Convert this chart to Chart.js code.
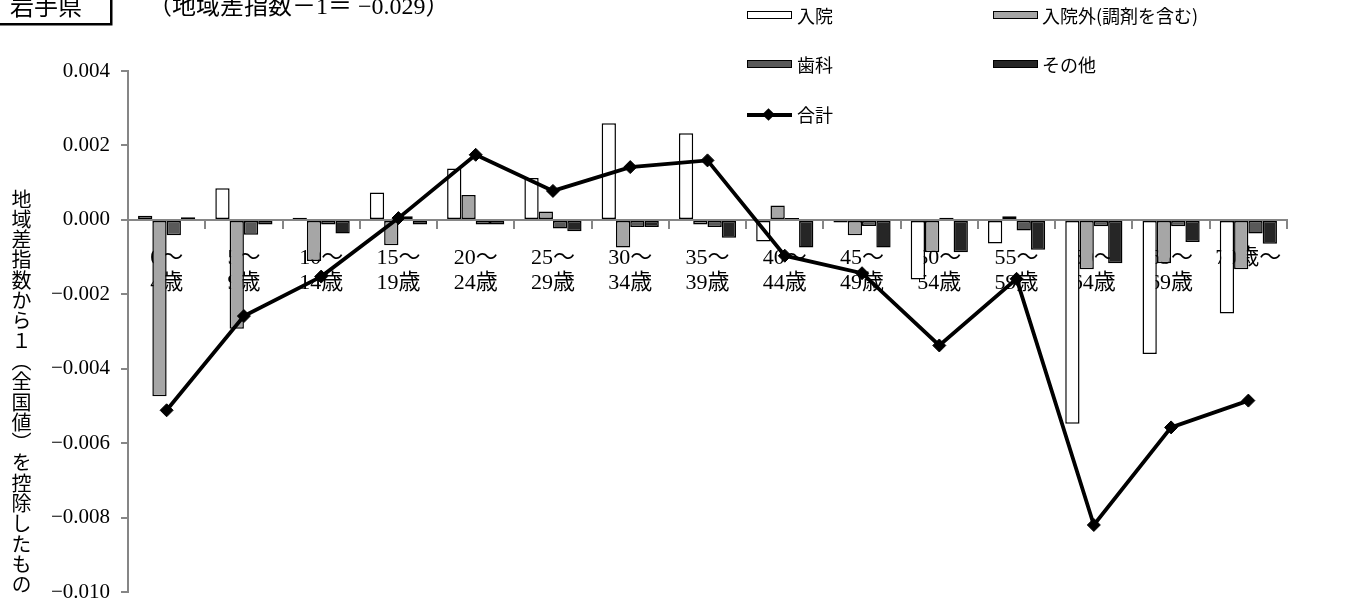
<!DOCTYPE html>
<html><head><meta charset="utf-8">
<script src="https://cdn.jsdelivr.net/npm/chart.js@4/dist/chart.umd.min.js"></script>
<style>
body{margin:0;background:#fff;}
#wrap{position:relative;width:1354px;height:616px;overflow:hidden;font-family:"Liberation Serif","Noto Sans CJK JP",serif;color:#000;}
#c{position:absolute;left:0;top:0;}
#pref{position:absolute;left:-3px;top:-14px;width:112px;height:36px;border:1.5px solid #000;box-shadow:1.5px 1.5px 0 #000;font-size:24px;line-height:40px;text-align:center;background:#fff;}
#pref span{position:relative;left:-8px;}
#sub{position:absolute;left:148px;top:-8px;font-size:24px;line-height:28px;white-space:nowrap;}
#ylab{position:absolute;left:9px;top:189px;writing-mode:vertical-rl;font-size:20px;line-height:24px;letter-spacing:0.3px;font-family:"Noto Sans CJK JP","Liberation Serif",serif;white-space:nowrap;}
.lg{position:absolute;font-family:"Noto Sans CJK JP",sans-serif;font-size:18px;line-height:22px;white-space:nowrap;}
.sym{position:absolute;width:43px;height:6px;border:1.5px solid #000;}
.lsym{position:absolute;width:45px;height:3.5px;background:#000;}
.dia{position:absolute;width:9px;height:9px;background:#000;transform:rotate(45deg);}
</style></head>
<body>
<div id="wrap">
<canvas id="c" width="1354" height="616"></canvas>
<div id="pref"><span>岩手県</span></div>
<div id="sub">（地域差指数－1＝ −0.029）</div>
<div id="ylab">地域差指数から１（全国値）を控除したもの</div>
<div class="sym" style="left:747px;top:11px;background:#fff;"></div>
<div class="lg" style="left:797px;top:4px;">入院</div>
<div class="sym" style="left:993px;top:11px;background:#a6a6a6;"></div>
<div class="lg" style="left:1042px;top:4px;">入院外(調剤を含む)</div>
<div class="sym" style="left:747px;top:60px;background:#595959;"></div>
<div class="lg" style="left:797px;top:53px;">歯科</div>
<div class="sym" style="left:993px;top:60px;background:#262626;"></div>
<div class="lg" style="left:1042px;top:53px;">その他</div>
<div class="lsym" style="left:747px;top:113px;"></div>
<div class="dia" style="left:764px;top:110px;"></div>
<div class="lg" style="left:797px;top:103px;">合計</div>
</div>
<script>
const categories = [["0～","4歳"],["5～","9歳"],["10～","14歳"],["15～","19歳"],["20～","24歳"],["25～","29歳"],["30～","34歳"],["35～","39歳"],["40～","44歳"],["45～","49歳"],["50～","54歳"],["55～","59歳"],["60～","64歳"],["65～","69歳"],["70歳～"]];
const nyuin  = [0.00011, 0.00085, 0.00006, 0.00074, 0.00138, 0.00113, 0.0026, 0.00233, -0.00058, -0.00007, -0.0016, -0.00063, -0.00547, -0.0036, -0.00251];
const gairai = [-0.00473, -0.00292, -0.0011, -0.00068, 0.00067, 0.00023, -0.00074, -0.00012, 0.00039, -0.00041, -0.00087, 0.0001, -0.00132, -0.00116, -0.00132];
const shika  = [-0.00041, -0.0004, -0.00012, 0.0001, -0.00012, -0.00023, -0.00019, -0.00019, 0.00005, -0.00016, 0.00006, -0.00028, -0.00017, -0.00017, -0.00036];
const sonota = [0.00007, -0.00012, -0.00036, -0.00012, -0.00012, -0.0003, -0.00019, -0.00048, -0.00074, -0.00074, -0.00087, -0.0008, -0.00116, -0.00059, -0.00064];
const total  = [-0.00511, -0.00258, -0.00152, 0.00005, 0.00175, 0.00078, 0.00142, 0.0016, -0.00096, -0.00143, -0.00337, -0.00158, -0.00819, -0.00557, -0.00485];
const seriesNames = ["入院","入院外(調剤を含む)","歯科","その他","合計"];
const yMin = -0.010, yMax = 0.004, yStep = 0.002;

const barCommon = {type:'bar', borderColor:'#000', borderWidth:1.5, borderSkipped:false, categoryPercentage:0.74, barPercentage:1.0, order:1};
new Chart(document.getElementById('c'), {
  data: {
    labels: categories,
    datasets: [
      Object.assign({label:seriesNames[0], data:nyuin, backgroundColor:'#ffffff'}, barCommon),
      Object.assign({label:seriesNames[1], data:gairai, backgroundColor:'#a6a6a6'}, barCommon),
      Object.assign({label:seriesNames[2], data:shika, backgroundColor:'#595959'}, barCommon),
      Object.assign({label:seriesNames[3], data:sonota, backgroundColor:'#262626'}, barCommon),
      {type:'line', label:seriesNames[4], data:total, borderColor:'#000', borderWidth:3.8, tension:0,
       pointStyle:'rectRot', pointRadius:6.5, pointBackgroundColor:'#000', pointBorderColor:'#000', pointBorderWidth:1, order:0}
    ]
  },
  options: {
    responsive:false, animation:false, devicePixelRatio:1,
    layout:{padding:{top:71, right:67, bottom:16, left:0}},
    plugins:{legend:{display:false}, tooltip:{enabled:false}},
    scales:{
      x:{
        position:{y:0},
        grid:{display:true, drawOnChartArea:false, drawTicks:true, tickLength:8, color:'#868686', lineWidth:2, offset:true},
        border:{display:true, color:'#868686', width:2},
        ticks:{color:'#000', padding:18, autoSkip:false, maxRotation:0, font:{family:'"Liberation Serif","Noto Sans CJK JP",serif', size:22, lineHeight:1.14}}
      },
      y:{
        min:yMin, max:yMax,
        afterFit:(s)=>{s.width=128;},
        grid:{display:true, drawOnChartArea:false, drawTicks:true, tickLength:7, color:'#868686', lineWidth:2},
        border:{display:true, color:'#868686', width:2},
        ticks:{stepSize:yStep, color:'#000', padding:11, font:{family:'"Liberation Serif",serif', size:21},
          callback:(v)=>{const t=Math.abs(v)<1e-12?'0.000':v.toFixed(3); return t.replace('-','−');}}
      }
    }
  }
});
</script>
</body></html>
